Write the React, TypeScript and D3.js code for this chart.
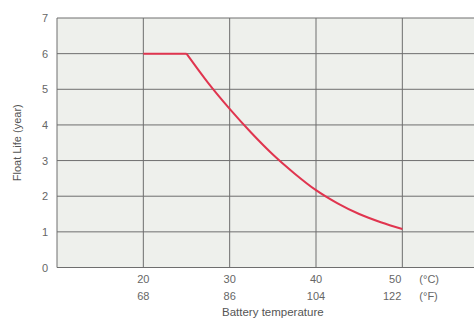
import React from 'react';
import * as d3 from 'd3';

// Float life curve
const tempC = [20, 25, 27.5, 30, 32.5, 35, 37.5, 40, 42.5, 45, 47.5, 50];
const lifeYears = [6, 6, 5.18, 4.45, 3.78, 3.17, 2.64, 2.17, 1.8, 1.5, 1.27, 1.08];

const yTicks = [0, 1, 2, 3, 4, 5, 6, 7];
const xTicksC = [20, 30, 40, 50];
const xTicksF = ['68', '86', '104', '122'];

const W = 474;
const H = 319;

const App = () => {
  // Scales
  const x = d3.scaleLinear().domain([10, 58.3]).range([57, W]);
  const y = d3.scaleLinear().domain([0, 7]).range([267.5, 18]);

  const pts = tempC.map((t, i) => [t, lifeYears[i]] as [number, number]);
  const flat = pts.slice(0, 2);
  const fall = pts.slice(1);

  const straight = d3.line<[number, number]>().x((d) => x(d[0])).y((d) => y(d[1]));
  const smooth = d3
    .line<[number, number]>()
    .x((d) => x(d[0]))
    .y((d) => y(d[1]))
    .curve(d3.curveMonotoneX);

  const gridColor = '#6e6e6e';
  const textColor = '#666';
  const font = '"Liberation Sans", Arial, sans-serif';

  return (
    <svg
      width={W}
      height={H}
      style={{ position: 'absolute', left: 0, top: 0, background: '#fff' }}
      fontFamily={font}
    >
      {/* plot background */}
      <rect x={x(10)} y={y(7)} width={W - x(10)} height={y(0) - y(7)} fill="#eef0ec" />

      {/* horizontal grid */}
      {yTicks.map((t) => (
        <line key={'h' + t} x1={x(10)} x2={W} y1={y(t)} y2={y(t)} stroke={gridColor} strokeWidth={1} />
      ))}
      {/* vertical grid incl. left border */}
      {[10, ...xTicksC].map((t) => (
        <line key={'v' + t} x1={x(t)} x2={x(t)} y1={y(7)} y2={y(0)} stroke={gridColor} strokeWidth={1} />
      ))}

      {/* curve */}
      <path d={straight(flat) || ''} fill="none" stroke="#e0354f" strokeWidth={2} />
      <path d={smooth(fall) || ''} fill="none" stroke="#e0354f" strokeWidth={2} />

      {/* y tick labels */}
      {yTicks.map((t) => (
        <text key={'yl' + t} x={45} y={y(t) + 4} textAnchor="middle" fontSize={11} fill={textColor}>
          {t}
        </text>
      ))}

      {/* x tick labels */}
      {xTicksC.map((t, i) => {
        const last = i === xTicksC.length - 1;
        return (
          <g key={'xl' + t}>
            <text x={last ? x(t) - 1 : x(t)} y={283} textAnchor={last ? 'end' : 'middle'} fontSize={11} fill={textColor}>
              {t}
            </text>
            <text x={last ? x(t) - 1 : x(t)} y={300} textAnchor={last ? 'end' : 'middle'} fontSize={11} fill={textColor}>
              {xTicksF[i]}
            </text>
          </g>
        );
      })}
      <text x={x(50) + 17} y={283} fontSize={11} fill={textColor}>(°C)</text>
      <text x={x(50) + 17} y={300} fontSize={11} fill={textColor}>(°F)</text>

      {/* axis titles */}
      <text x={x(35)} y={316} textAnchor="middle" fontSize={11.5} fill="#555">
        Battery temperature
      </text>
      <text
        transform={`translate(21, ${y(3.5)}) rotate(-90)`}
        textAnchor="middle"
        fontSize={11}
        fill="#555"
      >
        Float Life (year)
      </text>
    </svg>
  );
};

export default App;
